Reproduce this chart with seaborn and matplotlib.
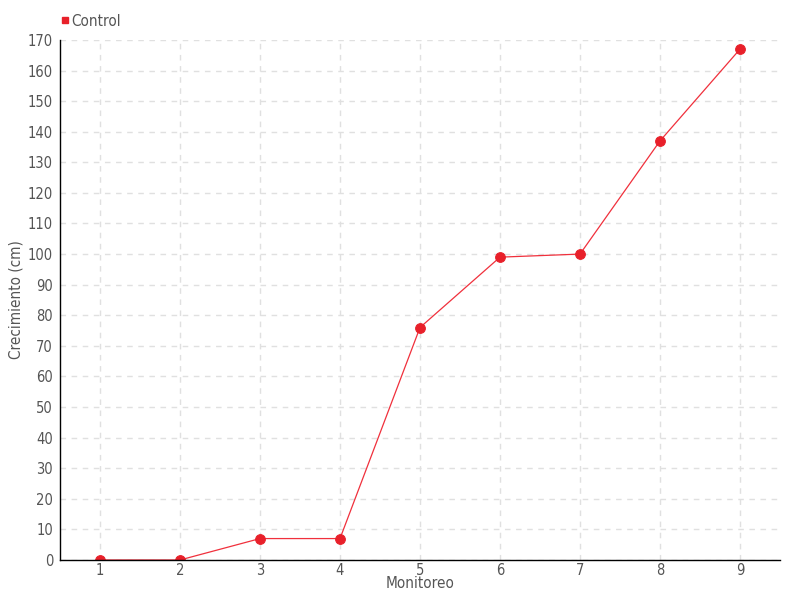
import numpy as np
import pandas as pd
import seaborn as sns
import matplotlib.pyplot as plt
from matplotlib.lines import Line2D

# --- data ---
monitoreo = [1, 2, 3, 4, 5, 6, 7, 8, 9]
control = [0, 0, 7, 7, 76, 99, 100, 137, 167]
y_ticks = list(range(0, 171, 10))

df = pd.DataFrame({"Monitoreo": monitoreo, "Control": control})

sns.set_theme(style="white")
plt.rcParams["font.family"] = ["DejaVu Sans"]
plt.rcParams["font.stretch"] = "condensed"

text_color = "#555555"
red = "#e8202a"

fig = plt.figure(figsize=(8, 6), dpi=100)
ax = fig.add_axes([0.075, 0.0667, 0.9, 0.8667])

sns.lineplot(data=df, x="Monitoreo", y="Control", ax=ax, color="#f0303c",
             linewidth=0.9, marker="o", markersize=7, markerfacecolor=red,
             markeredgecolor=red)

ax.set_xlim(0.5, 9.5)
ax.set_ylim(0, 170)
ax.set_xticks(monitoreo)
ax.set_yticks(y_ticks)
ax.grid(True, color="#e0e0e0", linestyle=(0, (4, 4)), linewidth=1)

for s in ["top", "right"]:
    ax.spines[s].set_visible(False)
for s in ["left", "bottom"]:
    ax.spines[s].set_color("black")
    ax.spines[s].set_linewidth(1)

ax.tick_params(axis="both", direction="inout", length=6, width=1,
               color="black", labelcolor=text_color, labelsize=10.5, pad=2)
ax.tick_params(axis="x", pad=-1)

ax.set_xlabel("Monitoreo", color=text_color, fontsize=11, labelpad=-1)
ax.set_ylabel("Crecimiento (cm)", color=text_color, fontsize=11)
ax.yaxis.set_label_coords(-0.05, 0.5)

handle = Line2D([], [], marker="s", linestyle="", color=red, markersize=5)
fig.legend([handle], ["Control"], loc="upper left",
           bbox_to_anchor=(0.056, 1.0), frameon=False, fontsize=11,
           handletextpad=0.0, handlelength=0.8, labelcolor=text_color)

fig.savefig("out.png", dpi=100)
